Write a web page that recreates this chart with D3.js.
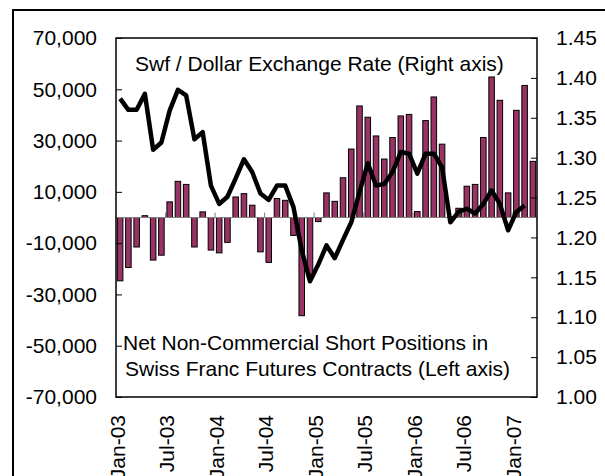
<!DOCTYPE html>
<html>
<head>
<meta charset="utf-8">
<script src="https://cdn.jsdelivr.net/npm/d3@7"></script>
<style>
  body { margin: 0; background: #fff; }
  text { font-family: "Liberation Sans", Arial, sans-serif; fill: #000; }
</style>
</head>
<body>
<svg></svg>
<script>
var months = ["Jan-03","Feb-03","Mar-03","Apr-03","May-03","Jun-03","Jul-03","Aug-03","Sep-03","Oct-03","Nov-03","Dec-03",
              "Jan-04","Feb-04","Mar-04","Apr-04","May-04","Jun-04","Jul-04","Aug-04","Sep-04","Oct-04","Nov-04","Dec-04",
              "Jan-05","Feb-05","Mar-05","Apr-05","May-05","Jun-05","Jul-05","Aug-05","Sep-05","Oct-05","Nov-05","Dec-05",
              "Jan-06","Feb-06","Mar-06","Apr-06","May-06","Jun-06","Jul-06","Aug-06","Sep-06","Oct-06","Nov-06","Dec-06",
              "Jan-07","Feb-07","Mar-07"]

// net non-commercial short positions (left axis)
var positions = [-24700,-19500,-11500,700,-16600,-14700,6100,14100,12900,-11500,2200,-12700,
                 -13800,-9700,8000,9300,4800,-13400,-17500,7400,6700,-7000,-38300,-23000,
                 -1600,9600,6300,15500,26700,43500,39100,31800,22800,31200,39600,40200,
                 2300,37800,47000,28600,300,3600,12200,12900,31200,54800,45700,9600,
                 41800,51500,21900]

// swf / dollar rate (right axis), ends one month before the bars
var rate = [1.374,1.360,1.360,1.380,1.310,1.319,1.359,1.385,1.378,1.323,1.332,1.265,
            1.242,1.251,1.274,1.298,1.282,1.255,1.247,1.265,1.265,1.238,1.184,1.145,
            1.166,1.190,1.174,1.197,1.219,1.257,1.293,1.265,1.267,1.282,1.307,1.305,
            1.280,1.305,1.305,1.288,1.219,1.232,1.236,1.230,1.242,1.259,1.242,1.209,
            1.232,1.240]

var leftTicks = [70000,50000,30000,10000,-10000,-30000,-50000,-70000]
var rightTicks = [1.45,1.40,1.35,1.30,1.25,1.20,1.15,1.10,1.05,1.00]
var xLabels = ["Jan-03","Jul-03","Jan-04","Jul-04","Jan-05","Jul-05","Jan-06","Jul-06","Jan-07"]

var width = 605
var height = 476
var plot = {left: 116, right: 537, top: 38, bottom: 397}
var fontSize = 21

var svg = d3.select("svg")
    .attr("width", width)
    .attr("height", height)

// outer frame (runs off the picture on right and bottom)
svg.append("rect")
    .attr("x", 13).attr("y", 10)
    .attr("width", width).attr("height", height)
    .attr("fill", "none")
    .attr("stroke", "#000")
    .attr("stroke-width", 2)

var x = d3.scaleBand()
    .domain(months)
    .range([plot.left, plot.right])
    .paddingInner(0.33)
    .paddingOuter(0.165)

var yL = d3.scaleLinear().domain([-70000, 70000]).range([plot.bottom, plot.top])
var yR = d3.scaleLinear().domain([1.00, 1.45]).range([plot.bottom, plot.top])

var step = x.step()
var gap = (step - x.bandwidth()) / 2

// plot area
svg.append("rect")
    .attr("x", plot.left).attr("y", plot.top)
    .attr("width", plot.right - plot.left)
    .attr("height", plot.bottom - plot.top)
    .attr("fill", "#fff")

// bars
svg.append("g")
    .selectAll("rect")
    .data(positions)
    .enter().append("rect")
    .attr("x", function(d, i) { return x(months[i]) })
    .attr("width", x.bandwidth())
    .attr("y", function(d) { return yL(Math.max(0, d)) })
    .attr("height", function(d) { return Math.abs(yL(d) - yL(0)) })
    .attr("fill", "#993366")
    .attr("stroke", "#000")
    .attr("stroke-width", 1)

// zero axis line + ticks every 6 months
svg.append("line")
    .attr("x1", plot.left).attr("x2", plot.right)
    .attr("y1", yL(0)).attr("y2", yL(0))
    .attr("stroke", "#808080").attr("stroke-width", 1)

svg.append("g")
    .selectAll("line")
    .data(xLabels.slice(1))
    .enter().append("line")
    .attr("x1", function(d) { return x(d) - gap })
    .attr("x2", function(d) { return x(d) - gap })
    .attr("y1", yL(0)).attr("y2", yL(0) - 5)
    .attr("stroke", "#808080").attr("stroke-width", 1)

// exchange rate line
var line = d3.line()
    .x(function(d, i) { return x(months[i]) + x.bandwidth() / 2 })
    .y(function(d) { return yR(d) })

svg.append("path")
    .datum(rate)
    .attr("d", line)
    .attr("fill", "none")
    .attr("stroke", "#000")
    .attr("stroke-width", 4.5)
    .attr("stroke-linejoin", "round")

// plot border
svg.append("rect")
    .attr("x", plot.left).attr("y", plot.top)
    .attr("width", plot.right - plot.left)
    .attr("height", plot.bottom - plot.top)
    .attr("fill", "none")
    .attr("stroke", "#000")
    .attr("stroke-width", 1.5)

// left axis
var fmt = d3.format(",d")
var leftAxis = d3.axisLeft(yL)
    .tickValues(leftTicks)
    .tickSize(-6)
    .tickPadding(19)
    .tickFormat(function(d) { return fmt(d).replace("\u2212", "-") })

var gl = svg.append("g")
    .attr("transform", "translate(" + plot.left + ",0)")
    .call(leftAxis)
gl.select(".domain").remove()
gl.selectAll(".tick line").attr("stroke", "#000")
gl.selectAll(".tick text")
    .attr("font-size", fontSize)
    .style("font-family", "Liberation Sans, Arial, sans-serif")
    .attr("fill", "#000")

// right axis
var rightAxis = d3.axisRight(yR)
    .tickValues(rightTicks)
    .tickSize(-6)
    .tickPadding(19)
    .tickFormat(d3.format(".2f"))

var gr = svg.append("g")
    .attr("transform", "translate(" + plot.right + ",0)")
    .call(rightAxis)
gr.select(".domain").remove()
gr.selectAll(".tick line").attr("stroke", "#000")
gr.selectAll(".tick text")
    .attr("font-size", fontSize)
    .style("font-family", "Liberation Sans, Arial, sans-serif")
    .attr("fill", "#000")

// x labels, rotated
svg.append("g")
    .selectAll("text")
    .data(xLabels)
    .enter().append("text")
    .attr("transform", function(d) { return "translate(" + (x(d) - gap + 1) + ",415) rotate(-90)" })
    .attr("dy", "0.36em")
    .attr("text-anchor", "end")
    .attr("font-size", fontSize)
    .text(function(d) { return d })

// in-plot annotations
svg.append("text")
    .attr("x", 135).attr("y", 71)
    .attr("font-size", fontSize)
    .text("Swf / Dollar Exchange Rate (Right axis)")

svg.append("text")
    .attr("x", 123).attr("y", 350)
    .attr("font-size", fontSize)
    .text("Net Non-Commercial Short Positions in")

svg.append("text")
    .attr("x", 125).attr("y", 376)
    .attr("font-size", fontSize)
    .text("Swiss Franc Futures Contracts (Left axis)")
</script>
</body>
</html>
